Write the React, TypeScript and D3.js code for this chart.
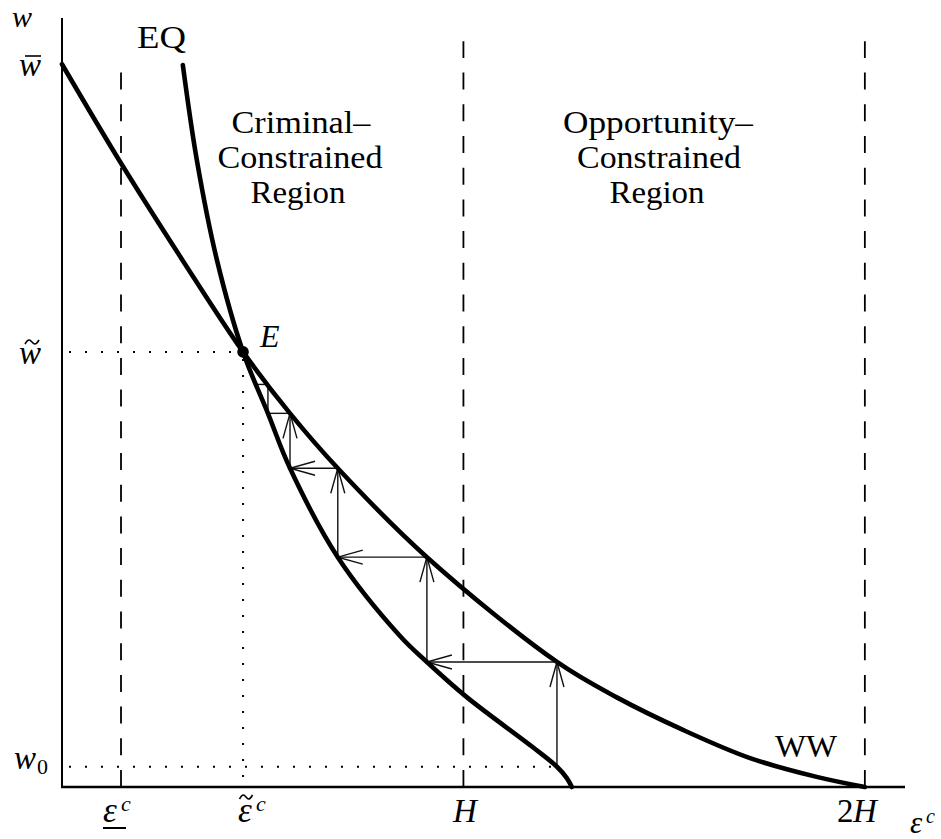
import React from 'react';
import * as d3 from 'd3';

// key values (H = 1, w-bar = 1)
const H = 1;
const wBar = 1;
const wTilde = 0.602;
const w0 = 0.028;
const epsLow = 0.147;
const epsTilde = 0.451;

// WW curve
const wwEps = [0, 0.147, 0.299, 0.451, 0.568, 0.687, 0.909, 1.233, 1.382, 1.547, 1.714, 1.88, 2.0];
const wwW = [1.0, 0.863, 0.73, 0.602, 0.517, 0.441, 0.318, 0.173, 0.124, 0.079, 0.04, 0.014, 0];

// EQ curve
const eqEps = [0.301, 0.336, 0.386, 0.451, 0.513, 0.568, 0.687, 0.842, 0.909, 1.009, 1.173, 1.233, 1.258, 1.27];
const eqW = [0.999, 0.867, 0.729, 0.602, 0.517, 0.441, 0.318, 0.209, 0.173, 0.124, 0.055, 0.028, 0.012, 0];

// cobweb corners, from w0 up towards E
const stepEps = [1.233, 0.909, 0.687, 0.568, 0.513, 0.481];
const stepW = [0.028, 0.173, 0.318, 0.441, 0.517, 0.557];

const serif = "'Liberation Serif', 'Times New Roman', serif";

// small tilde accent centred on (cx, cy)
const tilde = (cx: number, cy: number, w: number) => {
  const h = w / 2;
  return `M${cx - h},${cy + 2}C${cx - h / 2},${cy - 4} ${cx - h / 4},${cy - 2} ${cx},${cy}S${cx + h / 2},${cy + 4} ${cx + h},${cy - 2}`;
};

export default function App() {
  const width = 941;
  const height = 839;

  const x = d3.scaleLinear().domain([0, 2.1]).range([62, 905]);
  const y = d3.scaleLinear().domain([0, 1.064]).range([787, 18]);

  const line = d3.line<[number, number]>()
    .x(d => x(d[0]))
    .y(d => y(d[1]))
    .curve(d3.curveCatmullRom.alpha(0.5));

  const ww = wwEps.map((e, i) => [e, wwW[i]] as [number, number]);
  const eq = eqEps.map((e, i) => [e, eqW[i]] as [number, number]);

  // vertical step up to WW, then horizontal step left to EQ
  const segs: {x1: number, y1: number, x2: number, y2: number}[] = [];
  for (let i = 0; i < stepEps.length - 1; i++) {
    segs.push({x1: x(stepEps[i]), y1: y(stepW[i]), x2: x(stepEps[i]), y2: y(stepW[i + 1])});
    segs.push({x1: x(stepEps[i]), y1: y(stepW[i + 1]), x2: x(stepEps[i + 1]), y2: y(stepW[i + 1])});
  }

  const arrowHead = (s: {x1: number, y1: number, x2: number, y2: number}) => {
    const len = Math.hypot(s.x2 - s.x1, s.y2 - s.y1);
    if (len < 40) return null;
    const ux = (s.x2 - s.x1) / len, uy = (s.y2 - s.y1) / len;
    const bx = s.x2 - 25 * ux, by = s.y2 - 25 * uy;
    return `M${bx - 7 * uy},${by + 7 * ux}L${s.x2},${s.y2}L${bx + 7 * uy},${by - 7 * ux}`;
  };

  const dashed = [
    {e: epsLow, top: 0.989},
    {e: H, top: 1.032},
    {e: 2 * H, top: 1.032},
  ];

  const dotStyle = {stroke: '#000', strokeWidth: 2, strokeDasharray: '0 7 2 7', fill: 'none'};

  return (
    <svg width={width} height={height} style={{position: 'absolute', left: 0, top: 0, background: '#fff'}}>
      {/* dashed region boundaries, drawn from the axis up */}
      {dashed.map((d, i) => (
        <path key={i} d={`M${x(d.e)},${y(0)}L${x(d.e)},${y(d.top)}`}
          stroke="#000" strokeWidth={1.8} strokeDasharray="17 14.7" fill="none" />
      ))}

      {/* dotted guides */}
      <path d={`M${x(0)},${y(wTilde)}L${x(epsTilde)},${y(wTilde)}`} style={dotStyle} />
      <path d={`M${x(epsTilde)},${y(wTilde)}L${x(epsTilde)},${y(0)}`} style={dotStyle} />
      <path d={`M${x(0)},${y(w0)}L${x(stepEps[0])},${y(w0)}`} style={dotStyle} />

      {/* cobweb */}
      <g stroke="#111" strokeWidth={1.4} fill="none">
        {segs.map((s, i) => (
          <g key={i}>
            <line x1={s.x1} y1={s.y1} x2={s.x2} y2={s.y2} />
            {arrowHead(s) && <path d={arrowHead(s)!} />}
          </g>
        ))}
      </g>

      {/* curves */}
      <path d={line(ww)!} stroke="#000" strokeWidth={4.6} fill="none" strokeLinecap="round" />
      <path d={line(eq)!} stroke="#000" strokeWidth={4.6} fill="none" strokeLinecap="round" />
      <circle cx={x(epsTilde)} cy={y(wTilde)} r={5.8} fill="#000" />

      {/* axes */}
      <line x1={x(0)} y1={y(0)} x2={x(0)} y2={y(1.064)} stroke="#000" strokeWidth={2} />
      <line x1={x(0) - 1} y1={y(0)} x2={x(2.1)} y2={y(0)} stroke="#000" strokeWidth={2.5} />

      {/* accents */}
      <g stroke="#000" fill="none">
        <line x1={25} y1={56} x2={41} y2={56} strokeWidth={1.6} />
        <path d={tilde(32, 342, 14)} strokeWidth={1.6} />
        <line x1={103} y1={828} x2={126} y2={828} strokeWidth={2} />
        <path d={tilde(246, 797, 13)} strokeWidth={1.6} />
      </g>

      <g fontFamily={serif} fill="#000">
        {/* y labels */}
        <text x={12} y={27} fontSize={30} fontStyle="italic">w</text>
        <text x={19} y={76} fontSize={33} fontStyle="italic">w</text>
        <text x={19} y={364} fontSize={33} fontStyle="italic">w</text>
        <text x={14} y={769} fontSize={33} fontStyle="italic">w</text>
        <text x={37} y={774} fontSize={22}>0</text>

        {/* x labels */}
        <text x={103} y={822} fontSize={35} fontStyle="italic">ε</text>
        <text x={121} y={811} fontSize={22} fontStyle="italic">c</text>
        <text x={238} y={822} fontSize={35} fontStyle="italic">ε</text>
        <text x={256} y={811} fontSize={22} fontStyle="italic">c</text>
        <text x={465} y={822} fontSize={33} fontStyle="italic" textAnchor="middle">H</text>
        <text x={837} y={822} fontSize={33}>2</text>
        <text x={853} y={822} fontSize={33} fontStyle="italic">H</text>
        <text x={910} y={833} fontSize={31} fontStyle="italic">ε</text>
        <text x={926} y={823} fontSize={20} fontStyle="italic">c</text>

        {/* curve and point labels */}
        <text x={137} y={48} fontSize={31} textLength={49} lengthAdjust="spacingAndGlyphs">EQ</text>
        <text x={775} y={757} fontSize={31} textLength={62} lengthAdjust="spacingAndGlyphs">WW</text>
        <text x={260} y={347} fontSize={32} fontStyle="italic">E</text>

        {/* region labels */}
        <g fontSize={31} textAnchor="middle">
          <text x={301} y={133} textLength={139} lengthAdjust="spacingAndGlyphs">Criminal–</text>
          <text x={300} y={168} textLength={165} lengthAdjust="spacingAndGlyphs">Constrained</text>
          <text x={298} y={203} textLength={95} lengthAdjust="spacingAndGlyphs">Region</text>
          <text x={658} y={133} textLength={190} lengthAdjust="spacingAndGlyphs">Opportunity–</text>
          <text x={659} y={168} textLength={164} lengthAdjust="spacingAndGlyphs">Constrained</text>
          <text x={657} y={203} textLength={95} lengthAdjust="spacingAndGlyphs">Region</text>
        </g>
      </g>
    </svg>
  );
}
